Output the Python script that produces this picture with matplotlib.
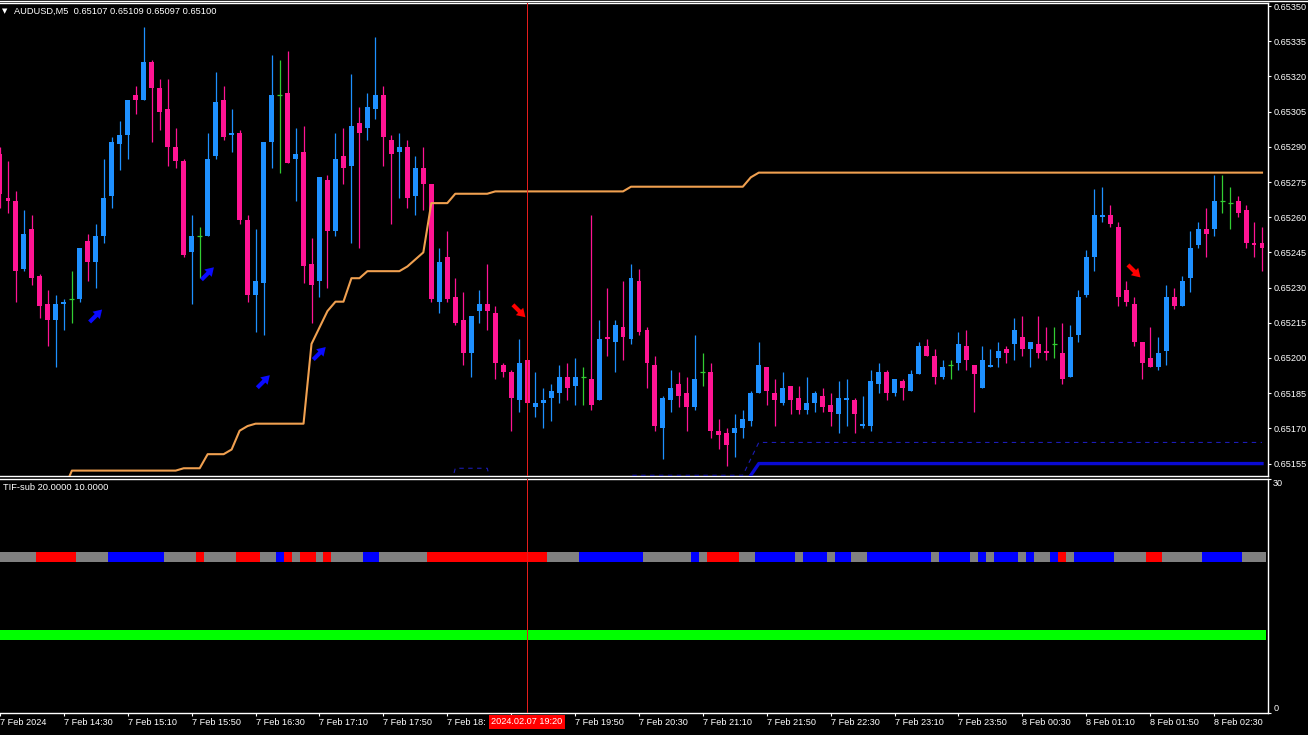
import matplotlib.pyplot as plt
import matplotlib.transforms as mtransforms
import numpy as np

plt.rcParams['font.family'] = ['Liberation Sans', 'DejaVu Sans']

# AUDUSD M5 bars, index 0 = 7 Feb 13:55 (bar -1 is cut by the left edge)
bar_open = [0.65287, 0.65268, 0.65267, 0.65238, 0.65255, 0.65235, 0.65223, 0.65216, 0.65223, 0.65225,
            0.65225, 0.65250, 0.65241, 0.65252, 0.65269, 0.65291, 0.65295, 0.65312, 0.65310, 0.65326,
            0.65315, 0.65306, 0.65290, 0.65284, 0.65245, 0.65252, 0.65252, 0.65286, 0.65310, 0.65295,
            0.65296, 0.65259, 0.65227, 0.65232, 0.65292, 0.65312, 0.65313, 0.65285, 0.65288, 0.65240,
            0.65233, 0.65276, 0.65254, 0.65286, 0.65282, 0.65300, 0.65298, 0.65306, 0.65312, 0.65293,
            0.65288, 0.65290, 0.65269, 0.65281, 0.65274, 0.65224, 0.65243, 0.65226, 0.65216, 0.65202,
            0.65220, 0.65223, 0.65219, 0.65197, 0.65194, 0.65182, 0.65199, 0.65179, 0.65181, 0.65183,
            0.65185, 0.65192, 0.65188, 0.65192, 0.65191, 0.65182, 0.65209, 0.65207, 0.65213, 0.65208,
            0.65233, 0.65212, 0.65197, 0.65170, 0.65182, 0.65189, 0.65185, 0.65179, 0.65194, 0.65194,
            0.65169, 0.65168, 0.65168, 0.65170, 0.65173, 0.65185, 0.65196, 0.65185, 0.65181, 0.65188,
            0.65183, 0.65178, 0.65181, 0.65184, 0.65180, 0.65176, 0.65182, 0.65182, 0.65171, 0.65171,
            0.65189, 0.65194, 0.65185, 0.65190, 0.65186, 0.65193, 0.65205, 0.65201, 0.65192, 0.65197,
            0.65198, 0.65205, 0.65197, 0.65187, 0.65196, 0.65200, 0.65204, 0.65206, 0.65209, 0.65204,
            0.65206, 0.65203, 0.65206, 0.65202, 0.65192, 0.65210, 0.65227, 0.65243, 0.65260, 0.65261,
            0.65256, 0.65229, 0.65223, 0.65207, 0.65200, 0.65196, 0.65203, 0.65226, 0.65222, 0.65234,
            0.65248, 0.65255, 0.65255, 0.65267, 0.65266, 0.65267, 0.65263, 0.65249, 0.65249]
bar_high = [0.65290, 0.65284, 0.65271, 0.65263, 0.65261, 0.65236, 0.65229, 0.65227, 0.65225, 0.65237,
            0.65247, 0.65253, 0.65257, 0.65285, 0.65294, 0.65301, 0.65310, 0.65316, 0.65341, 0.65327,
            0.65319, 0.65319, 0.65298, 0.65285, 0.65261, 0.65256, 0.65296, 0.65322, 0.65316, 0.65306,
            0.65297, 0.65261, 0.65255, 0.65292, 0.65329, 0.65327, 0.65331, 0.65298, 0.65299, 0.65251,
            0.65277, 0.65278, 0.65296, 0.65298, 0.65321, 0.65307, 0.65313, 0.65337, 0.65316, 0.65295,
            0.65296, 0.65293, 0.65286, 0.65290, 0.65274, 0.65247, 0.65254, 0.65234, 0.65228, 0.65218,
            0.65229, 0.65240, 0.65222, 0.65198, 0.65195, 0.65208, 0.65199, 0.65194, 0.65187, 0.65189,
            0.65197, 0.65198, 0.65200, 0.65196, 0.65261, 0.65216, 0.65230, 0.65216, 0.65233, 0.65240,
            0.65238, 0.65213, 0.65201, 0.65184, 0.65195, 0.65194, 0.65192, 0.65210, 0.65202, 0.65198,
            0.65174, 0.65170, 0.65176, 0.65178, 0.65186, 0.65207, 0.65196, 0.65191, 0.65194, 0.65188,
            0.65188, 0.65192, 0.65186, 0.65187, 0.65185, 0.65190, 0.65191, 0.65183, 0.65184, 0.65195,
            0.65198, 0.65195, 0.65191, 0.65191, 0.65195, 0.65207, 0.65208, 0.65204, 0.65199, 0.65199,
            0.65211, 0.65212, 0.65197, 0.65205, 0.65204, 0.65207, 0.65205, 0.65217, 0.65218, 0.65207,
            0.65218, 0.65213, 0.65213, 0.65215, 0.65214, 0.65229, 0.65246, 0.65272, 0.65273, 0.65265,
            0.65258, 0.65233, 0.65226, 0.65207, 0.65213, 0.65209, 0.65231, 0.65230, 0.65235, 0.65254,
            0.65258, 0.65264, 0.65278, 0.65278, 0.65273, 0.65269, 0.65265, 0.65258, 0.65256]
bar_low = [0.65264, 0.65262, 0.65224, 0.65237, 0.65231, 0.65217, 0.65205, 0.65196, 0.65212, 0.65215,
           0.65224, 0.65233, 0.65230, 0.65249, 0.65264, 0.65280, 0.65285, 0.65304, 0.65310, 0.65292,
           0.65297, 0.65282, 0.65281, 0.65243, 0.65223, 0.65234, 0.65252, 0.65285, 0.65293, 0.65288,
           0.65257, 0.65224, 0.65211, 0.65210, 0.65281, 0.65279, 0.65283, 0.65267, 0.65232, 0.65215,
           0.65226, 0.65230, 0.65252, 0.65274, 0.65249, 0.65247, 0.65293, 0.65302, 0.65282, 0.65257,
           0.65268, 0.65264, 0.65261, 0.65263, 0.65224, 0.65219, 0.65224, 0.65214, 0.65197, 0.65192,
           0.65215, 0.65212, 0.65191, 0.65192, 0.65169, 0.65177, 0.65181, 0.65175, 0.65170, 0.65173,
           0.65181, 0.65182, 0.65180, 0.65180, 0.65178, 0.65182, 0.65201, 0.65194, 0.65199, 0.65206,
           0.65210, 0.65187, 0.65169, 0.65157, 0.65177, 0.65179, 0.65169, 0.65178, 0.65188, 0.65166,
           0.65161, 0.65154, 0.65158, 0.65166, 0.65171, 0.65185, 0.65180, 0.65171, 0.65180, 0.65176,
           0.65176, 0.65176, 0.65177, 0.65177, 0.65171, 0.65168, 0.65171, 0.65168, 0.65170, 0.65169,
           0.65185, 0.65182, 0.65184, 0.65182, 0.65186, 0.65193, 0.65201, 0.65189, 0.65191, 0.65191,
           0.65195, 0.65195, 0.65177, 0.65187, 0.65196, 0.65196, 0.65198, 0.65199, 0.65201, 0.65196,
           0.65200, 0.65199, 0.65200, 0.65189, 0.65192, 0.65207, 0.65226, 0.65237, 0.65258, 0.65256,
           0.65222, 0.65222, 0.65205, 0.65191, 0.65196, 0.65195, 0.65197, 0.65221, 0.65222, 0.65228,
           0.65247, 0.65243, 0.65252, 0.65262, 0.65255, 0.65260, 0.65247, 0.65243, 0.65237]
bar_close = [0.65270, 0.65267, 0.65237, 0.65253, 0.65234, 0.65222, 0.65216, 0.65223, 0.65224, 0.65225,
             0.65247, 0.65241, 0.65252, 0.65268, 0.65292, 0.65295, 0.65310, 0.65310, 0.65326, 0.65315,
             0.65305, 0.65290, 0.65284, 0.65244, 0.65252, 0.65252, 0.65285, 0.65309, 0.65294, 0.65296,
             0.65259, 0.65227, 0.65233, 0.65292, 0.65312, 0.65312, 0.65283, 0.65287, 0.65239, 0.65231,
             0.65277, 0.65254, 0.65285, 0.65281, 0.65299, 0.65296, 0.65307, 0.65312, 0.65294, 0.65287,
             0.65290, 0.65268, 0.65281, 0.65274, 0.65225, 0.65241, 0.65225, 0.65215, 0.65202, 0.65218,
             0.65223, 0.65220, 0.65198, 0.65194, 0.65183, 0.65198, 0.65181, 0.65181, 0.65182, 0.65186,
             0.65192, 0.65187, 0.65192, 0.65192, 0.65180, 0.65208, 0.65208, 0.65214, 0.65209, 0.65234,
             0.65211, 0.65198, 0.65171, 0.65183, 0.65187, 0.65184, 0.65179, 0.65191, 0.65194, 0.65169,
             0.65167, 0.65163, 0.65170, 0.65174, 0.65185, 0.65197, 0.65186, 0.65182, 0.65187, 0.65182,
             0.65178, 0.65181, 0.65185, 0.65179, 0.65177, 0.65183, 0.65183, 0.65176, 0.65172, 0.65190,
             0.65194, 0.65185, 0.65191, 0.65187, 0.65193, 0.65205, 0.65201, 0.65192, 0.65196, 0.65197,
             0.65206, 0.65199, 0.65193, 0.65199, 0.65197, 0.65203, 0.65202, 0.65212, 0.65204, 0.65207,
             0.65202, 0.65202, 0.65206, 0.65191, 0.65209, 0.65226, 0.65243, 0.65261, 0.65261, 0.65257,
             0.65226, 0.65224, 0.65207, 0.65198, 0.65196, 0.65202, 0.65226, 0.65222, 0.65233, 0.65247,
             0.65255, 0.65253, 0.65267, 0.65267, 0.65266, 0.65262, 0.65249, 0.65248, 0.65247]

# orange stop line (vertices of the polyline, bar index / price)
orange_bar = [7, 8, 21, 22, 24, 25, 27, 28, 29, 30, 31, 37, 38, 39, 40, 41, 42, 43, 44, 45,
              49, 50, 51, 52, 53, 55, 56, 60, 61, 77, 78, 92, 93, 94, 157]
orange_px = [0.65144, 0.65152, 0.65152, 0.65153, 0.65153, 0.65159, 0.65159, 0.65161, 0.65169, 0.65171,
             0.65172, 0.65172, 0.65206, 0.65213, 0.65220, 0.65224, 0.65224, 0.65234, 0.65234, 0.65237,
             0.65237, 0.65239, 0.65242, 0.65245, 0.65266, 0.65266, 0.65270, 0.65270, 0.65271, 0.65271,
             0.65273, 0.65273, 0.65277, 0.65279, 0.65279]
# blue lines near the bottom
dash_bar = [55, 56, 60, 61, 77, 78, 92, 93, 94, 157]
dash_px = [0.65140, 0.65153, 0.65153, 0.65140, 0.65140, 0.65150, 0.65150, 0.65157, 0.65164, 0.65164]
solid_bar = [92, 93, 94, 157]
solid_px = [0.65145, 0.65150, 0.65155, 0.65155]

# signal arrows
up_bar = [11, 25, 32, 39]
up_px = [0.65218, 0.65236, 0.65190, 0.65202]
dn_bar = [64, 141]
dn_px = [0.65220, 0.65237]

price_ticks = [0.65155, 0.65170, 0.65185, 0.65200, 0.65215, 0.65230, 0.65245,
               0.65260, 0.65275, 0.65290, 0.65305, 0.65320, 0.65335, 0.65350]

# TIF-sub state at level 20, run-length coded from bar -1 (g=flat, r=down, b=up)
tif_state = ['g', 'r', 'g', 'b', 'g', 'r', 'g', 'r', 'g', 'b',
             'r', 'g', 'r', 'g', 'r', 'g', 'b', 'g', 'r', 'g',
             'b', 'g', 'b', 'g', 'r', 'g', 'b', 'g', 'b', 'g',
             'b', 'g', 'b', 'g', 'b', 'g', 'b', 'g', 'b', 'g',
             'b', 'g', 'b', 'r', 'g', 'b', 'g', 'r', 'g', 'b', 'g']
tif_run = [5, 5, 4, 7, 4, 1, 4, 3, 2, 1,
           1, 1, 2, 1, 1, 4, 2, 6, 15, 4,
           8, 6, 1, 1, 4, 2, 5, 1, 3, 1,
           2, 2, 8, 1, 4, 1, 1, 1, 3, 1,
           1, 2, 1, 1, 1, 5, 4, 2, 5, 5, 3]
tif_levels = [20, 10]

# time axis; the 19:10 label sits under the cursor box, 18:30 is cut by it
xt_pos = [-1, 7, 15, 23, 31, 39, 47, 55, 63, 71, 79, 87, 95, 103, 111, 119, 127, 135, 143, 151]
xt_lab = ['7 Feb 2024', '7 Feb 14:30', '7 Feb 15:10', '7 Feb 15:50', '7 Feb 16:30', '7 Feb 17:10',
          '7 Feb 17:50', '7 Feb 18:', '', '7 Feb 19:50', '7 Feb 20:30', '7 Feb 21:10',
          '7 Feb 21:50', '7 Feb 22:30', '7 Feb 23:10', '7 Feb 23:50', '8 Feb 00:30', '8 Feb 01:10',
          '8 Feb 01:50', '8 Feb 02:30']
cursor_bar = 65

W, H = 1308, 735


def px_box(left, top, right, bottom):
    return [left / W, 1 - bottom / H, (right - left) / W, (bottom - top) / H]


fig = plt.figure(figsize=(W / 100, H / 100), dpi=100, facecolor='black')
ax = fig.add_axes(px_box(0, 3, 1268, 476))
sub = fig.add_axes(px_box(0, 479, 1268, 713), sharex=ax)
for a in (ax, sub):
    a.set_facecolor('black')
    for s in ('top', 'right', 'bottom'):
        a.spines[s].set_color('white')
        a.spines[s].set_linewidth(1)
    a.spines['left'].set_visible(False)

# candles
x = np.arange(-1, -1 + len(bar_open))
o, h, l, c = (np.array(v) for v in (bar_open, bar_high, bar_low, bar_close))
col = np.where(c > o, '#1E90FF', np.where(c < o, '#FF1493', '#32CD32'))
ax.vlines(x, l, h, colors=list(col), lw=0.9, zorder=2)
body = c != o
ax.bar(x[body], np.maximum(np.abs(c - o), 0.000005)[body], bottom=np.minimum(o, c)[body],
       width=0.62, color=list(col[body]), linewidth=0, zorder=3)
ax.hlines(o[~body], x[~body] - 0.31, x[~body] + 0.31, colors='#32CD32', lw=0.9, zorder=3)

ax.plot(orange_bar, orange_px, color='#F0A050', lw=1.5, zorder=4)
ax.plot(dash_bar, dash_px, color='#1C1CB4', lw=0.8, ls=(0, (4, 4)), zorder=4)
ax.plot(solid_bar, solid_px, color='#0A0AD2', lw=2.4, zorder=4)

# thick signal arrows, about 14 px across
arrow_style = 'simple,head_length=0.6,head_width=0.75,tail_width=0.3'


def signal_arrow(b, p, dy, color):
    tip = mtransforms.offset_copy(ax.transData, fig=fig, x=4.5, y=4.5 * dy, units='points')
    ax.annotate('', xy=(b, p), xycoords=tip, xytext=(-9, -9 * dy), textcoords='offset points',
                arrowprops=dict(arrowstyle=arrow_style, color=color, lw=0, mutation_scale=10,
                                shrinkA=0, shrinkB=0),
                zorder=5)


for b, p in zip(up_bar, up_px):
    signal_arrow(b, p, 1, '#0A0AFF')
for b, p in zip(dn_bar, dn_px):
    signal_arrow(b, p, -1, '#FF0000')

ax.set_xlim(-0.75, 157.75)
ax.set_ylim(0.651497, 0.653513)
ax.yaxis.tick_right()
ax.set_yticks(price_ticks)
ax.set_yticklabels([f'{t:.5f}' for t in price_ticks])
ax.tick_params(axis='y', colors='white', labelsize=6.6, length=2.2, width=0.8, pad=1.5)
ax.tick_params(axis='x', length=0, labelbottom=False)

# sub window
start = -1
colors = {'g': '#808080', 'r': '#FF0000', 'b': '#0000FF'}
for st, n in zip(tif_state, tif_run):
    sub.broken_barh([(start - 0.5, n)], (tif_levels[0] - 0.58, 1.16), facecolors=colors[st])
    start += n
sub.broken_barh([(-1.5, len(bar_open))], (tif_levels[1] - 0.58, 1.16), facecolors='#00FF00')
sub.set_ylim(0, 30)
sub.yaxis.tick_right()
sub.set_yticks([0, 30])
sub.set_yticklabels(['0', '30'])
ylabs = sub.get_yticklabels()
ylabs[0].set_va('bottom')
ylabs[1].set_va('top')
sub.tick_params(axis='y', colors='white', labelsize=6.6, length=2.2, width=0.8, pad=1.5)
sub.set_xticks(xt_pos)
sub.set_xticklabels(xt_lab, ha='left')
sub.tick_params(axis='x', colors='white', labelsize=6.6, length=2.2, width=0.8, pad=1.5)

for a in (ax, sub):
    a.axvline(cursor_bar, color='#E41C1C', lw=0.5, zorder=6, antialiased=False)

# texts
fig.add_artist(plt.Line2D([0, 1], [1 - 0.5 / H] * 2, color='white', lw=1))
fig.text(2 / W, 1 - 11.5 / H, '\u25bc', color='white', fontsize=5, va='center', family='DejaVu Sans')
fig.text(13.5 / W, 1 - 11.5 / H, 'AUDUSD,M5  0.65107 0.65109 0.65097 0.65100',
         color='white', fontsize=6.7, va='center')
fig.text(3 / W, 1 - 487 / H, 'TIF-sub 20.0000 10.0000', color='white', fontsize=6.7, va='center')
fig.text(527 / W, 1 - 722 / H, '2024.02.07 19:20', color='white', fontsize=6.6, ha='center',
         va='center', bbox=dict(boxstyle='square,pad=0.25', fc='#FF0000', ec='none'))

plt.savefig('out.png', dpi=100, facecolor='black')
